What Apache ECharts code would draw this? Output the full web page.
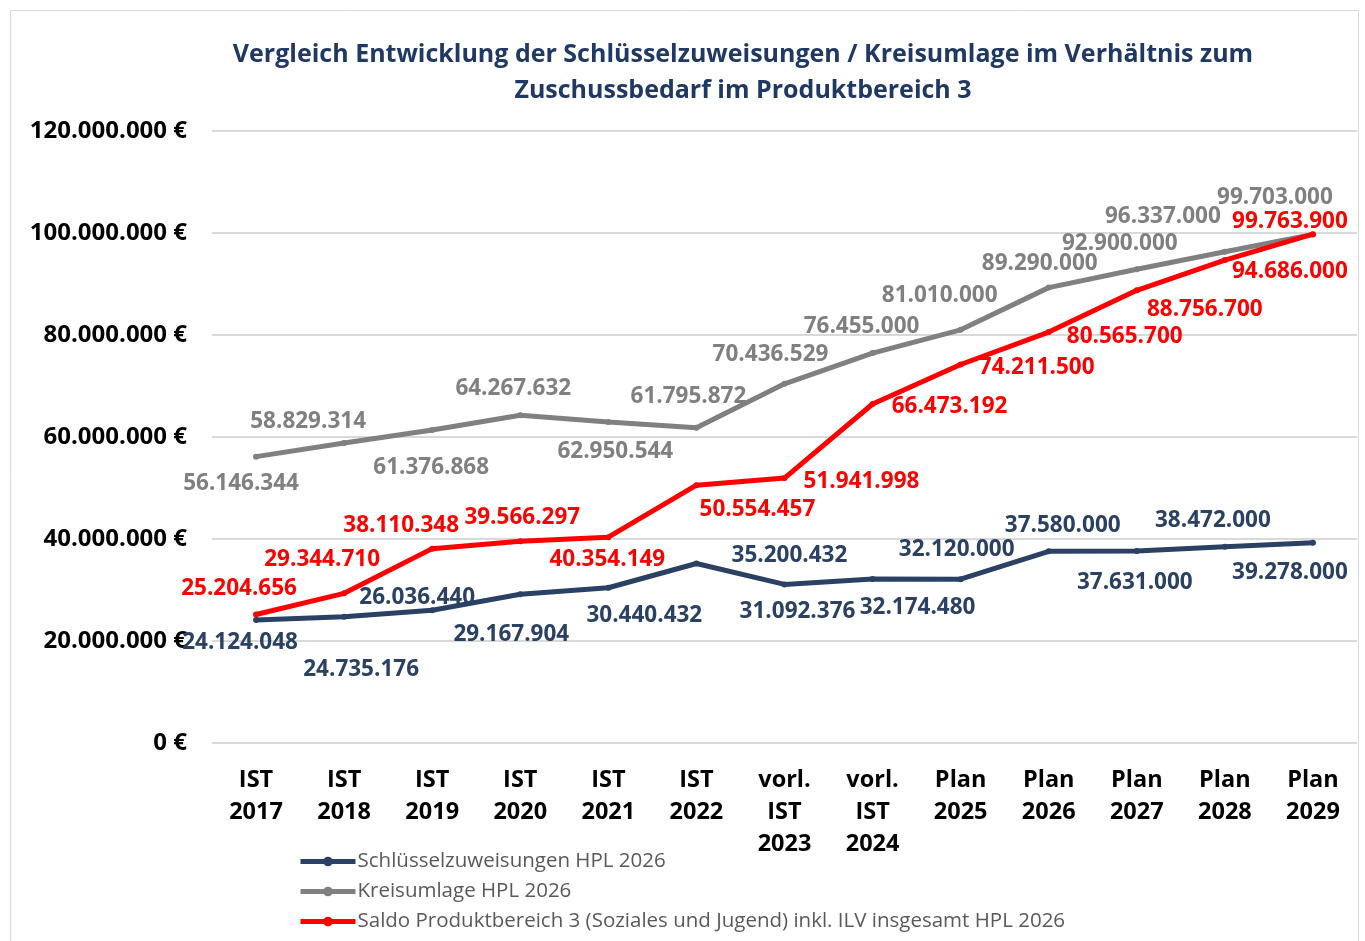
<!DOCTYPE html>
<html><head><meta charset="utf-8">
<script src="https://cdn.jsdelivr.net/npm/echarts@6/dist/echarts.min.js"></script>
<style>html,body{margin:0;padding:0;background:#fff}#c{width:1365px;height:941px}</style>
</head><body><div id="c"></div>
<script>
const categories = ['IST\n2017','IST\n2018','IST\n2019','IST\n2020','IST\n2021','IST\n2022','vorl.\nIST\n2023','vorl.\nIST\n2024','Plan\n2025','Plan\n2026','Plan\n2027','Plan\n2028','Plan\n2029'];
const schluessel = [24124048,24735176,26036440,29167904,30440432,35200432,31092376,32174480,32120000,37580000,37631000,38472000,39278000];
const kreisumlage = [56146344,58829314,61376868,64267632,62950544,61795872,70436529,76455000,81010000,89290000,92900000,96337000,99703000];
const saldo = [25204656,29344710,38110348,39566297,40354149,50554457,51941998,66473192,74211500,80565700,88756700,94686000,99763900];
const seriesNames = ['Schlüsselzuweisungen HPL 2026','Kreisumlage HPL 2026','Saldo Produktbereich 3 (Soziales und Jugend) inkl. ILV insgesamt HPL 2026'];
const titleText = 'Vergleich Entwicklung der Schlüsselzuweisungen / Kreisumlage im Verhältnis zum\nZuschussbedarf im Produktbereich 3';

// label placement (pixel offsets from each point), layout only
const offBlue = [[-16,23],[17,53],[-15,-13],[-9,40],[36,28],[93,-8],[13,27],[45,29],[-4,-30],[14,-26],[-2,32],[-12,-26],[-23,30]];
const offGray = [[-15,27],[-36,-21],[-1,38],[-7,-27],[7,30],[-8,-31],[-14,-29],[-11,-26],[-21,-34],[-9,-24],[-17,-26],[-62,-35],[-38,-37]];
const offRed = [[-17,-26],[-22,-34],[-31,-23],[2,-24],[-1,22],[61,24],[77,3],[77,3],[76,3],[76,4],[68,19],[65,11],[-23,-13]];

function fmt(v){ return String(Math.round(v)).replace(/\B(?=(\d{3})+(?!\d))/g,'.'); }
const FONT = "'Open Sans', 'Noto Sans', sans-serif";
const colors = ['#2A4163','#808080','#FF0000'];

function mkSeries(name, vals, offs, color, z){
  return {
    name, type:'line', data: vals.map((v,i)=>({value:v, label:{offset:offs[i]}})),
    z, symbol:'circle', symbolSize:6, showSymbol:true,
    itemStyle:{color}, lineStyle:{color, width:5},
    label:{show:true, position:'inside', formatter:p=>fmt(p.value), color, fontFamily:FONT, fontWeight:'bold', fontSize:22.5},
    emphasis:{disabled:true}, animation:false
  };
}

const chart = echarts.init(document.getElementById('c'), null, {renderer:'canvas'});
chart.setOption({
  animation:false,
  graphic:[{type:'rect', shape:{x:10.5,y:10.5,width:1348,height:960}, style:{fill:'none', stroke:'#D9D9D9', lineWidth:1}, z:-10}],
  title:{text:titleText, left:743, top:37, textAlign:'center', padding:0,
    textStyle:{fontFamily:FONT, fontWeight:'bold', fontSize:25, lineHeight:36, color:'#203864'}},
  grid:{left:212, right:8, top:131, bottom:198, containLabel:false},
  xAxis:{type:'category', data:categories, boundaryGap:true,
    axisLine:{show:false}, axisTick:{show:false},
    axisLabel:{interval:0, margin:21, fontFamily:FONT, fontWeight:'bold', fontSize:23.5, lineHeight:32, color:'#000'}},
  yAxis:{type:'value', min:0, max:120000000, interval:20000000,
    axisLine:{show:false}, axisTick:{show:false},
    splitLine:{lineStyle:{color:'#D9D9D9', width:2}},
    axisLabel:{margin:25, fontFamily:FONT, fontWeight:'bold', fontSize:24, color:'#000', formatter:v=>fmt(v)+' €'}},
  legend:{orient:'vertical', left:293, top:846, itemGap:9, itemWidth:55, itemHeight:12,
    data:seriesNames, lineStyle:{width:5}, itemStyle:{},
    textStyle:{fontFamily:FONT, fontSize:20.5, lineHeight:21, color:'#595959', padding:[0,0,0,-3]}},
  series:[
    mkSeries(seriesNames[0], schluessel, offBlue, colors[0], 2),
    mkSeries(seriesNames[1], kreisumlage, offGray, colors[1], 3),
    mkSeries(seriesNames[2], saldo, offRed, colors[2], 4)
  ]
});
</script></body></html>
